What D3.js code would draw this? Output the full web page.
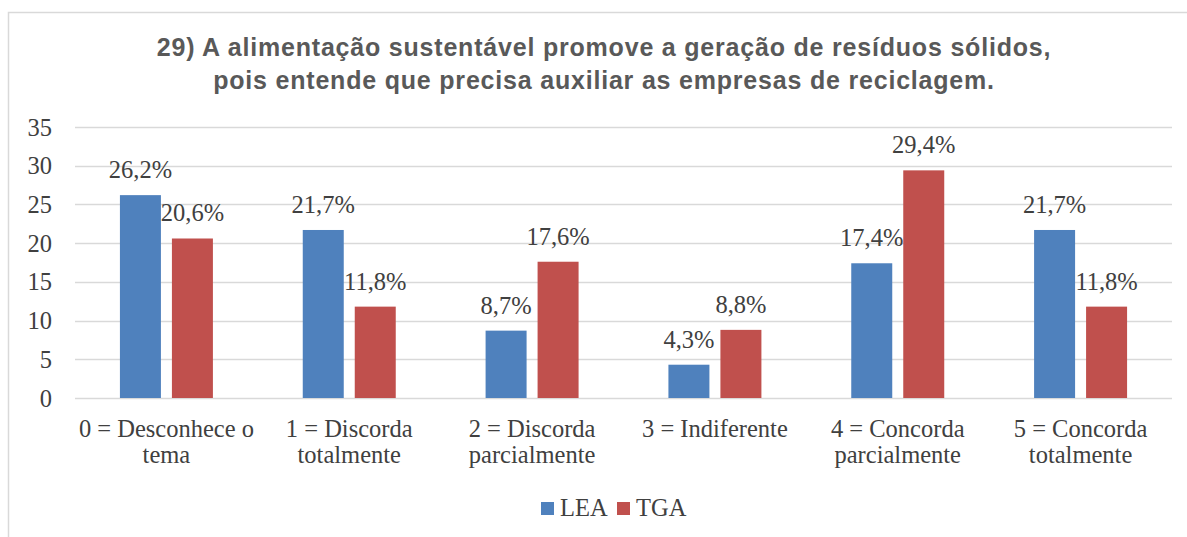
<!DOCTYPE html>
<html>
<head>
<meta charset="utf-8">
<script src="https://cdn.jsdelivr.net/npm/d3@7"></script>
<style>
  body { margin: 0; background: #fff; }
  svg { display: block; }
</style>
</head>
<body>
<div class="chart-holder"></div>
<script>
var categories = [
  ["0 = Desconhece o", "tema"],
  ["1 = Discorda", "totalmente"],
  ["2 = Discorda", "parcialmente"],
  ["3 = Indiferente"],
  ["4 = Concorda", "parcialmente"],
  ["5 = Concorda", "totalmente"]
];
var series = ["LEA", "TGA"];
var lea = [26.2, 21.7, 8.7, 4.3, 17.4, 21.7];
var tga = [20.6, 11.8, 17.6, 8.8, 29.4, 11.8];
var yTicks = [0, 5, 10, 15, 20, 25, 30, 35];
var titleLines = [
  "29) A alimentação sustentável promove a geração de resíduos sólidos,",
  "pois entende que precisa auxiliar as empresas de reciclagem."
];

var width = 1187, height = 537;
var color = d3.scaleOrdinal().domain(series).range(["#4f81bd", "#c0504d"]);
var serifFont = "'Liberation Serif', 'DejaVu Serif', serif";
var serifSize = "24.5px";

var svg = d3.select(".chart-holder")
  .append("svg")
  .attr("width", width)
  .attr("height", height);

// chart border (only top and left visible in the crop)
svg.append("rect")
  .attr("x", 8.5).attr("y", 12.5)
  .attr("width", 1250).attr("height", 600)
  .attr("fill", "none").attr("stroke", "#d9d9d9").attr("stroke-width", 1.5);

/* Title */
svg.append("g").selectAll("text")
  .data(titleLines)
  .enter().append("text")
  .attr("x", 604)
  .attr("y", (d, i) => 56 + i * 33)
  .attr("text-anchor", "middle")
  .attr("fill", "#595959")
  .style("font-family", "'Liberation Sans', Arial, sans-serif")
  .style("font-weight", "bold")
  .style("font-size", "25px")
  .style("letter-spacing", "0.8px")
  .text(d => d);

var scaleX = d3.scaleBand().domain(d3.range(categories.length)).range([75, 1172]);
var scaleY = d3.scaleLinear().domain([0, 35]).range([398, 127]);
var scaleS = d3.scaleBand().domain(series).range([0, scaleX.bandwidth()])
  .paddingInner(0.2115).paddingOuter(0.864);

/* Gridlines */
svg.append("g").selectAll("line")
  .data(yTicks)
  .enter().append("line")
  .attr("x1", 75).attr("x2", 1172)
  .attr("y1", d => Math.round(scaleY(d)) + 0.5)
  .attr("y2", d => Math.round(scaleY(d)) + 0.5)
  .attr("stroke", "#d9d9d9").attr("stroke-width", 1.5);

/* Y tick labels */
svg.append("g").selectAll("text")
  .data(yTicks)
  .enter().append("text")
  .attr("x", 52)
  .attr("y", d => scaleY(d))
  .attr("dy", "0.35em")
  .attr("text-anchor", "end")
  .attr("fill", "#404040")
  .style("font-family", serifFont)
  .style("font-size", serifSize)
  .text(d => d);

var rows = categories.map((c, i) => ({ i: i, LEA: lea[i], TGA: tga[i] }));

var groups = svg.append("g").selectAll("g")
  .data(rows)
  .enter().append("g")
  .attr("transform", d => `translate(${scaleX(d.i)}, 0)`);

var cells = groups.selectAll("g")
  .data(d => series.map(s => ({ s: s, v: d[s] })))
  .enter().append("g");

cells.append("rect")
  .attr("x", d => scaleS(d.s))
  .attr("y", d => scaleY(d.v))
  .attr("width", scaleS.bandwidth())
  .attr("height", d => scaleY(0) - scaleY(d.v))
  .attr("fill", d => color(d.s));

cells.append("text")
  .attr("x", d => scaleS(d.s) + scaleS.bandwidth() / 2)
  .attr("y", d => scaleY(d.v) - 17)
  .attr("text-anchor", "middle")
  .attr("fill", "#404040")
  .style("font-family", serifFont)
  .style("font-size", serifSize)
  .text(d => d.v.toFixed(1).replace(".", ",") + "%");

/* Category labels */
var catLabels = svg.append("g").selectAll("text")
  .data(categories)
  .enter().append("text")
  .attr("text-anchor", "middle")
  .attr("fill", "#404040")
  .style("font-family", serifFont)
  .style("font-size", serifSize);

catLabels.selectAll("tspan")
  .data((d, i) => d.map(line => ({ line: line, i: i })))
  .enter().append("tspan")
  .attr("x", d => scaleX(d.i) + scaleX.bandwidth() / 2)
  .attr("y", (d, j) => 437 + j * 26)
  .text(d => d.line);

/* Legend */
var legendX = [541, 617];
var legend = svg.append("g").selectAll("g")
  .data(series)
  .enter().append("g")
  .attr("transform", (d, i) => `translate(${legendX[i]}, 502)`);

legend.append("rect")
  .attr("width", 13).attr("height", 13)
  .attr("fill", d => color(d));

legend.append("text")
  .attr("x", 19).attr("y", 14)
  .attr("fill", "#404040")
  .style("font-family", serifFont)
  .style("font-size", serifSize)
  .text(d => d);
</script>
</body>
</html>
